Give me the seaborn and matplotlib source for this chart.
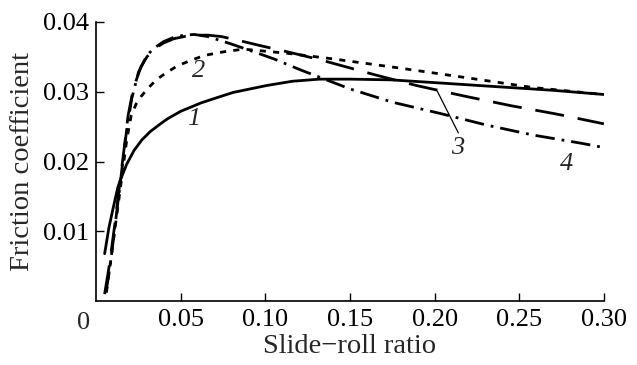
import numpy as np
import pandas as pd
import matplotlib
matplotlib.use("Agg")
import matplotlib.pyplot as plt
import seaborn as sns

# ---- data ----
x1 = [0.005, 0.0075, 0.010, 0.0128, 0.0147, 0.018, 0.0224, 0.027, 0.032, 0.038, 0.042, 0.050,
      0.062, 0.072, 0.081, 0.101, 0.116, 0.132, 0.150, 0.174, 0.200, 0.238, 0.270, 0.300]
y1 = [0.0068, 0.0105, 0.0133, 0.0163, 0.0176, 0.0196, 0.0216, 0.0231, 0.0243, 0.0254, 0.0261, 0.0272,
      0.0284, 0.0292, 0.0299, 0.0309, 0.0315, 0.0318, 0.0318, 0.0317, 0.0313, 0.0307, 0.0302, 0.0296]

x2 = [0.006, 0.009, 0.012, 0.015, 0.018, 0.0206, 0.0235, 0.0265, 0.031, 0.036, 0.042, 0.048,
      0.056, 0.064, 0.075, 0.087, 0.100, 0.113, 0.140, 0.179, 0.219, 0.258, 0.300]
y2 = [0.0012, 0.0065, 0.012, 0.0175, 0.023, 0.0265, 0.0282, 0.0293, 0.0306, 0.0318, 0.0328, 0.0337,
      0.0345, 0.0352, 0.0357, 0.0361, 0.0358, 0.0355, 0.0347, 0.0334, 0.0320, 0.0306, 0.0296]

x3 = [0.005, 0.008, 0.011, 0.014, 0.017, 0.0188, 0.022, 0.0265, 0.030, 0.034, 0.040, 0.046,
      0.052, 0.058, 0.066, 0.074, 0.085, 0.097, 0.115, 0.132, 0.144, 0.165, 0.189, 0.217,
      0.245, 0.272, 0.300]
y3 = [0.0010, 0.0055, 0.0110, 0.0170, 0.0228, 0.0265, 0.0305, 0.0336, 0.0350, 0.0361, 0.0370, 0.0376,
      0.0379, 0.0381, 0.0381, 0.0379, 0.0373, 0.0366, 0.0356, 0.0346, 0.0338, 0.0324, 0.0309, 0.0294,
      0.0280, 0.0268, 0.0254]

x4 = [0.006, 0.009, 0.012, 0.015, 0.018, 0.021, 0.025, 0.030, 0.034, 0.040, 0.046, 0.052,
      0.058, 0.066, 0.079, 0.091, 0.105, 0.121, 0.150, 0.175, 0.203, 0.231, 0.258, 0.287, 0.300]
y4 = [0.0015, 0.0065, 0.0125, 0.0185, 0.0245, 0.0290, 0.0328, 0.0352, 0.0362, 0.0372, 0.0378, 0.0381,
      0.0382, 0.0379, 0.0369, 0.0359, 0.0347, 0.0331, 0.0304, 0.0285, 0.0269, 0.0252, 0.0238, 0.0226, 0.0220]

curve_labels = ["1", "2", "3", "4"]
xticks = [0.05, 0.10, 0.15, 0.20, 0.25, 0.30]
xtick_labels = ["0.05", "0.10", "0.15", "0.20", "0.25", "0.30"]
yticks = [0.01, 0.02, 0.03, 0.04]
ytick_labels = ["0.01", "0.02", "0.03", "0.04"]

df = pd.concat([
    pd.DataFrame({"x": x1, "y": y1, "curve": "1"}),
    pd.DataFrame({"x": x2, "y": y2, "curve": "2"}),
    pd.DataFrame({"x": x3, "y": y3, "curve": "3"}),
    pd.DataFrame({"x": x4, "y": y4, "curve": "4"}),
], ignore_index=True)

sns.set_theme(style="ticks")
plt.rcParams["font.family"] = ["Liberation Serif", "DejaVu Serif"]

fig = plt.figure(figsize=(6.37, 3.65), dpi=100)
ax = fig.add_axes([0.151, 0.175, 0.797, 0.765])

dashes = {"1": "", "2": (2.2, 2.6), "3": (10.5, 5), "4": (7, 2.5, 1, 2.5)}
sns.lineplot(data=df, x="x", y="y", style="curve", dashes=dashes, color="black",
             linewidth=2.0, sort=False, estimator=None, legend=False, ax=ax)

ax.set_xlim(0, 0.30)
ax.set_ylim(0, 0.04)
ax.set_xticks(xticks)
ax.set_xticklabels(xtick_labels)
ax.set_yticks(yticks)
ax.set_yticklabels(ytick_labels)
ax.tick_params(axis="both", direction="in", length=6, width=1.0, labelsize=19,
               colors="black", pad=5)
ax.tick_params(axis="x", pad=6)
for s in ["top", "right"]:
    ax.spines[s].set_visible(False)
for s in ["left", "bottom"]:
    ax.spines[s].set_linewidth(1.2)
    ax.spines[s].set_color("black")

ax.set_xlabel("Slide\u2212roll ratio", fontsize=20.5, labelpad=2)
ax.set_ylabel("Friction coefficient", fontsize=20.5, labelpad=6)

# origin label
ax.annotate("0", xy=(0, 0), xycoords="data", xytext=(-9, -8), textcoords="offset points",
            ha="center", va="top", fontsize=19)

# curve labels
ax.text(0.0576, 0.0261, curve_labels[0], fontsize=19, style="italic", ha="center", va="center")
ax.text(0.0606, 0.0330, curve_labels[1], fontsize=19, style="italic", ha="center", va="center")
ax.text(0.2135, 0.0220, curve_labels[2], fontsize=19, style="italic", ha="center", va="center")
ax.text(0.2780, 0.0197, curve_labels[3], fontsize=19, style="italic", ha="center", va="center")
ax.plot([0.2015, 0.2140], [0.0301, 0.0241], color="black", linewidth=0.9)

fig.savefig("out.png", dpi=100)
